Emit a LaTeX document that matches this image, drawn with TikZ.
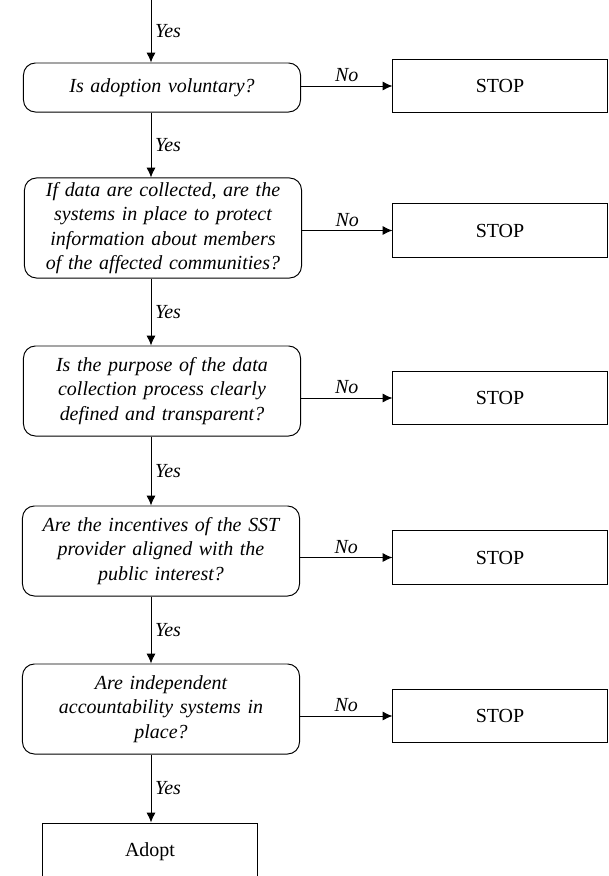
\documentclass[tikz,border=0pt]{standalone}
\usepackage{fontspec}
\setmainfont{Liberation Serif}
\usetikzlibrary{shapes.geometric, arrows.meta}
\newcommand{\chartfont}{\fontsize{14.2}{17.4}\selectfont}
\tikzstyle{question} = [rectangle, rounded corners=0.3cm, draw=black, line width=0.7pt, minimum width=6.925cm, text width=6.8cm, align=center, inner sep=0pt, font=\chartfont\itshape]
\tikzstyle{stopbox} = [rectangle, draw=black, line width=0.7pt, minimum width=5.35cm, minimum height=1.33cm, inner sep=0pt, font=\chartfont]
\tikzstyle{answer} = [inner sep=2.5pt, font=\chartfont\itshape]
\tikzstyle{arrow} = [line width=0.7pt,->,>={Latex[length=7pt,width=6.4pt]}]

\begin{document}
\begin{tikzpicture}[x=0.025cm, y=-0.025cm]
\useasboundingbox (0,0) rectangle (609,876);

%question boxes, arrows run down a line left of their centre
\coordinate (spine) at (151,0);
\node[question, minimum height=1.225cm] (q1) at (162,87.5) {Is adoption voluntary?};
\node[question, minimum height=2.5cm] (q2) at (163,228) {If data are collected, are the\\ systems in place to protect\\ information about members\\ of the affected communities?};
\node[question, minimum height=2.25cm] (q3) at (162,391) {Is the purpose of the data\\ collection process clearly\\ defined and transparent?};
\node[question, minimum height=2.25cm] (q4) at (161,551) {Are the incentives of the SST\\ provider aligned with the\\ public interest?};
\node[question, minimum height=2.25cm] (q5) at (161,709) {Are independent\\ accountability systems in\\ place?};

\node[stopbox, minimum height=1.45cm] (adopt) at (150,852) {Adopt};

%stop boxes on the right
\foreach \i/\y in {1/86,2/230.5,3/398,4/557.5,5/716}
{
\node[stopbox] (stop\i) at (500,\y) {STOP};
\draw[arrow] (q\i.east |- stop\i.west) -- (stop\i.west) node[answer, midway, above] {No};
}

\draw[arrow] (spine) -- (spine |- q1.north) node[answer, midway, right] {Yes};
\foreach \a/\b in {q1/q2,q2/q3,q3/q4,q4/q5,q5/adopt}
{
\draw[arrow] (spine |- \a.south) -- (spine |- \b.north) node[answer, midway, right] {Yes};
}

\end{tikzpicture}
\end{document}
